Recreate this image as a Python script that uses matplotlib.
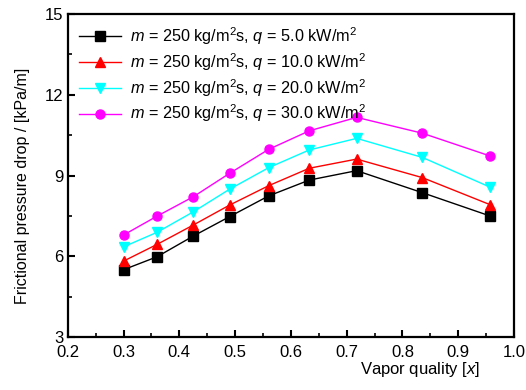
# Frictional pressure drop vs vapor quality
import matplotlib
matplotlib.use("Agg")
import matplotlib.pyplot as plt
from matplotlib.ticker import MultipleLocator

plt.rcParams['font.family'] = ['Liberation Sans', 'DejaVu Sans']
plt.rcParams['mathtext.fontset'] = 'custom'
plt.rcParams['mathtext.rm'] = 'Liberation Sans'
plt.rcParams['mathtext.it'] = 'Liberation Sans:italic'

# data
quality = [0.30, 0.36, 0.425, 0.49, 0.56, 0.633, 0.718, 0.836, 0.958]
dp_q5 = [5.50, 5.98, 6.75, 7.47, 8.24, 8.83, 9.18, 8.36, 7.49]
dp_q10 = [5.82, 6.44, 7.16, 7.90, 8.62, 9.27, 9.61, 8.92, 7.91]
dp_q20 = [6.35, 6.89, 7.65, 8.49, 9.29, 9.95, 10.38, 9.67, 8.56]
dp_q30 = [6.79, 7.49, 8.21, 9.08, 9.97, 10.66, 11.16, 10.57, 9.72]

labels = [r'$m$ = 250 kg/m$^2$s, $q$ = 5.0 kW/m$^2$',
          r'$m$ = 250 kg/m$^2$s, $q$ = 10.0 kW/m$^2$',
          r'$m$ = 250 kg/m$^2$s, $q$ = 20.0 kW/m$^2$',
          r'$m$ = 250 kg/m$^2$s, $q$ = 30.0 kW/m$^2$']
series = [dp_q5, dp_q10, dp_q20, dp_q30]
colors = ['black', 'red', 'cyan', 'magenta']
markers = ['s', '^', 'v', 'o']

fig = plt.figure(figsize=(5.26, 3.90), dpi=100)
ax = fig.add_axes([0.129, 0.136, 0.848, 0.828])

for vals, lab, c, mk in zip(series, labels, colors, markers):
    ax.plot(quality, vals, color=c, marker=mk, markersize=6.5, linewidth=1,
            label=lab)

ax.set_xlim(0.2, 1.0)
ax.set_ylim(3, 15)
ax.xaxis.set_major_locator(MultipleLocator(0.1))
ax.xaxis.set_minor_locator(MultipleLocator(0.05))
ax.yaxis.set_major_locator(MultipleLocator(3))
ax.yaxis.set_minor_locator(MultipleLocator(1.5))
ax.tick_params(which='both', direction='in', labelsize=12, top=False, right=False)
ax.tick_params(which='major', length=5, width=1.5, pad=3)
ax.tick_params(axis='x', which='major', pad=6)
ax.tick_params(which='minor', length=3, width=1.2)
for s in ax.spines.values():
    s.set_linewidth(1.6)

ax.set_xlabel(r'Vapor quality [$x$]', fontsize=12)
ax.xaxis.set_label_coords(0.79, -0.07)
ax.set_ylabel('Frictional pressure drop / [kPa/m]', fontsize=11.5)
ax.yaxis.set_label_coords(-0.085, 0.467)

ax.legend(loc='upper left', frameon=False, fontsize=11.7, handlelength=2.6,
          labelspacing=0.25, borderaxespad=0.3, handletextpad=0.5)

fig.savefig('out.png', dpi=100)
